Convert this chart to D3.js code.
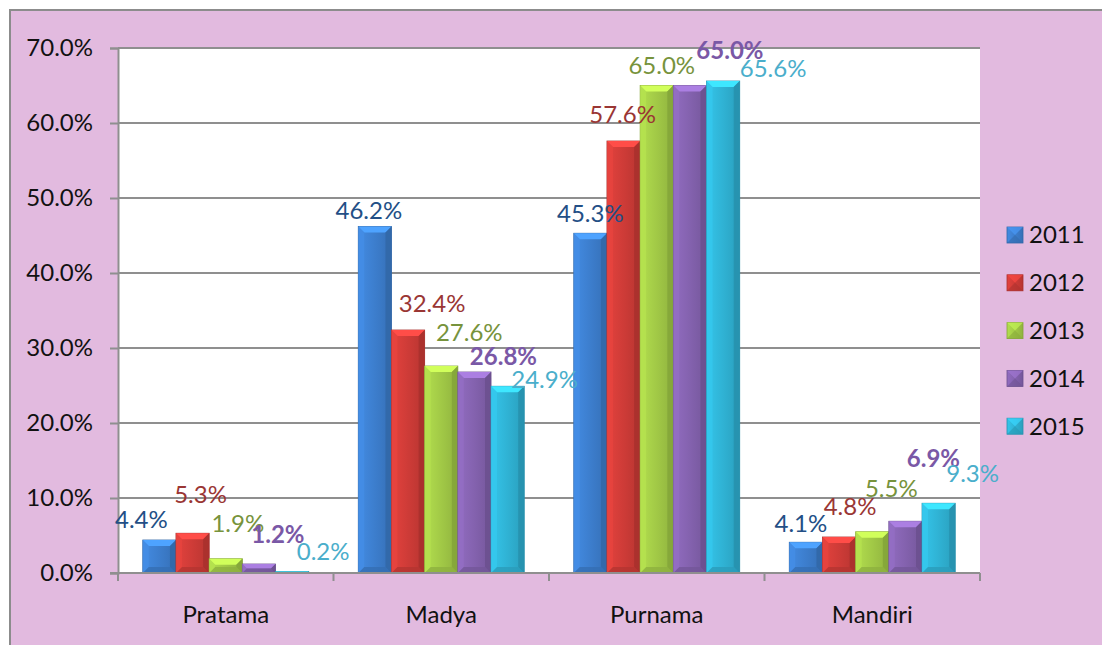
<!DOCTYPE html>
<html>
<head>
<meta charset="utf-8">
<script src="https://cdn.jsdelivr.net/npm/d3@7"></script>
<style>
  html, body { margin: 0; padding: 0; background: #ffffff; }
  svg { display: block; font-family: "Lato", "Open Sans", sans-serif; }
</style>
</head>
<body>
<svg id="chart" width="1102" height="645"></svg>
<script>
// Categories and yearly shares (fractions)
const categories = ["Pratama", "Madya", "Purnama", "Mandiri"];
const years = ["2011", "2012", "2013", "2014", "2015"];
const v2011 = [0.044, 0.462, 0.453, 0.041];
const v2012 = [0.053, 0.324, 0.576, 0.048];
const v2013 = [0.019, 0.276, 0.650, 0.055];
const v2014 = [0.012, 0.268, 0.650, 0.069];
const v2015 = [0.002, 0.249, 0.656, 0.093];
const seriesValues = [v2011, v2012, v2013, v2014, v2015];
const yTicks = [0, 0.1, 0.2, 0.3, 0.4, 0.5, 0.6, 0.7];

// Bar body colours and value-label colours per year
const barColors = ["#3d7fcf", "#d03c38", "#a3cb47", "#8563b0", "#30b4d6"];
const labelColors = ["#234f86", "#9a3634", "#77933c", "#7a58a6", "#4aaecb"];
const labelWeights = ["normal", "normal", "normal", "bold", "normal"];
const fontSize = 24;

// Label placement relative to the bar's centre / top, [dx, dy] per year and category
const labelNudge = [
  [[-18, -12], [-6, -8], [0, -11], [-5, -10]],
  [[8, -30], [24, -18], [-1, -18], [11, -22]],
  [[12, -27], [28, -25], [5, -12], [19, -35]],
  [[19, -21], [29, -7], [40, -27], [28, -54]],
  [[31, -12], [37, 2], [50, -4], [34, -21]]
];

const svg = d3.select("#chart");
const plot = { left: 118, right: 980, top: 48, bottom: 573 };

// Outer panel
svg.append("rect")
  .attr("x", 10).attr("y", 10).attr("width", 1110).attr("height", 660)
  .attr("fill", "#e2badf").attr("stroke", "#8c8c8c").attr("stroke-width", 2);

// Plot area
svg.append("rect")
  .attr("x", plot.left).attr("y", plot.top)
  .attr("width", plot.right - plot.left).attr("height", plot.bottom - plot.top)
  .attr("fill", "#ffffff");

const y = d3.scaleLinear().domain([0, 0.7]).range([plot.bottom, plot.top]);
const x0 = d3.scaleBand().domain(categories).range([plot.left, plot.right]).padding(0);
const bw = x0.bandwidth();
const x1 = d3.scaleBand().domain(years).range([bw * 0.115, bw * 0.885]).padding(0);

// Gridlines
svg.append("g")
  .selectAll("line")
  .data(yTicks.filter(t => t > 0))
  .join("line")
  .attr("x1", plot.left).attr("x2", plot.right)
  .attr("y1", d => y(d)).attr("y2", d => y(d))
  .attr("stroke", "#8f8f8f").attr("stroke-width", 2);

// Y axis
const yAxis = svg.append("g")
  .attr("transform", `translate(${plot.left},0)`)
  .call(d3.axisLeft(y).tickValues(yTicks).tickFormat(d3.format(".1%")).tickSize(8).tickPadding(17));
yAxis.select(".domain").attr("stroke", "#8f8f8f").attr("stroke-width", 2);
yAxis.selectAll(".tick line").attr("stroke", "#8f8f8f").attr("stroke-width", 2);
yAxis.selectAll(".tick text")
  .attr("font-family", "Lato, 'Open Sans', sans-serif")
  .attr("font-size", fontSize).attr("fill", "#111");

// Gradients for bevelled bars
const defs = svg.append("defs");
barColors.forEach((c, i) => {
  const base = d3.color(c);
  const g = defs.append("linearGradient").attr("id", "bar" + i)
    .attr("x1", "0%").attr("x2", "100%").attr("y1", "0%").attr("y2", "0%");
  g.append("stop").attr("offset", "0%").attr("stop-color", base.brighter(0.25));
  g.append("stop").attr("offset", "45%").attr("stop-color", base);
  g.append("stop").attr("offset", "100%").attr("stop-color", base.darker(0.35));
});

// Bars
const groups = svg.append("g").selectAll("g")
  .data(categories)
  .join("g")
  .attr("transform", d => `translate(${x0(d)},0)`);

groups.each(function (cat, ci) {
  const g = d3.select(this);
  years.forEach((yr, si) => {
    const v = seriesValues[si][ci];
    const bx = x1(yr), w = x1.bandwidth();
    const top = y(v), bottom = y(0), h = bottom - top;
    const b = Math.min(6, h / 2);
    const base = d3.color(barColors[si]);
    g.append("rect")
      .attr("x", bx).attr("y", top).attr("width", w).attr("height", h)
      .attr("fill", `url(#bar${si})`)
      .attr("stroke", base.darker(0.6)).attr("stroke-width", 0.8);
    // top bevel
    g.append("path")
      .attr("d", `M${bx},${top}L${bx + w},${top}L${bx + w - b},${top + b}L${bx + b},${top + b}Z`)
      .attr("fill", base.brighter(0.7));
    // left bevel
    g.append("path")
      .attr("d", `M${bx},${top}L${bx + b},${top + b}L${bx + b},${bottom - b}L${bx},${bottom}Z`)
      .attr("fill", base.brighter(0.3)).attr("opacity", 0.8);
    // right bevel
    g.append("path")
      .attr("d", `M${bx + w},${top}L${bx + w - b},${top + b}L${bx + w - b},${bottom - b}L${bx + w},${bottom}Z`)
      .attr("fill", base.darker(0.6)).attr("opacity", 0.85);
    // bottom bevel
    g.append("path")
      .attr("d", `M${bx},${bottom}L${bx + b},${bottom - b}L${bx + w - b},${bottom - b}L${bx + w},${bottom}Z`)
      .attr("fill", base.darker(0.4)).attr("opacity", 0.8);
  });
});

// X axis
const xAxisY = plot.bottom;
svg.append("line")
  .attr("x1", plot.left - 8).attr("x2", plot.right)
  .attr("y1", xAxisY).attr("y2", xAxisY)
  .attr("stroke", "#8f8f8f").attr("stroke-width", 2);
const bounds = categories.map(c => x0(c)).concat([x0(categories[categories.length - 1]) + bw]);
svg.append("g").selectAll("line")
  .data(bounds)
  .join("line")
  .attr("x1", d => d).attr("x2", d => d)
  .attr("y1", xAxisY).attr("y2", xAxisY + 8)
  .attr("stroke", "#8f8f8f").attr("stroke-width", 2);
svg.append("g").selectAll("text")
  .data(categories)
  .join("text")
  .attr("x", d => x0(d) + bw / 2)
  .attr("y", 623)
  .attr("text-anchor", "middle")
  .attr("font-size", fontSize).attr("fill", "#111")
  .text(d => d);

// Value labels
const fmt = d3.format(".1%");
categories.forEach((cat, ci) => {
  years.forEach((yr, si) => {
    const v = seriesValues[si][ci];
    const [dx, dy] = labelNudge[si][ci];
    svg.append("text")
      .attr("x", x0(cat) + x1(yr) + x1.bandwidth() / 2 + dx)
      .attr("y", y(v) + dy)
      .attr("text-anchor", "middle")
      .attr("font-size", fontSize)
      .attr("font-weight", labelWeights[si])
      .attr("fill", labelColors[si])
      .text(fmt(v));
  });
});

// Legend
const legend = svg.append("g").attr("transform", "translate(1007,235)");
years.forEach((yr, i) => {
  const row = legend.append("g").attr("transform", `translate(0,${i * 47.8})`);
  const base = d3.color(barColors[i]);
  row.append("rect").attr("x", 0).attr("y", -8).attr("width", 16).attr("height", 16)
    .attr("fill", `url(#bar${i})`).attr("stroke", base.darker(0.6)).attr("stroke-width", 0.8);
  row.append("path").attr("d", "M0,-8L16,-8L8,0Z").attr("fill", base.brighter(0.5)).attr("opacity", 0.7);
  row.append("path").attr("d", "M0,8L16,8L8,0Z").attr("fill", base.darker(0.5)).attr("opacity", 0.6);
  row.append("text").attr("x", 22).attr("y", 0).attr("dy", "0.35em")
    .attr("font-size", fontSize).attr("fill", "#111").text(yr);
});
</script>
</body>
</html>
